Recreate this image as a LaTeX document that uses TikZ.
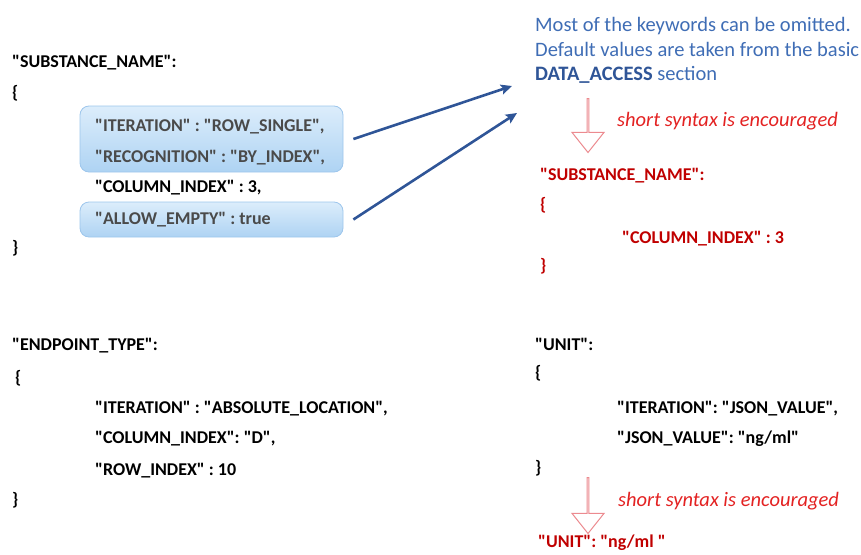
\documentclass[tikz,border=0pt]{standalone}
\usepackage{fontspec}
\setmainfont{Carlito}
\usetikzlibrary{arrows.meta,positioning,shapes.arrows}
\definecolor{keyblue}{HTML}{2F5597}
\definecolor{hintblue}{HTML}{3F6DB5}
\definecolor{shortred}{HTML}{C00000}
\definecolor{notered}{HTML}{E32222}
\definecolor{hollowred}{HTML}{EC8A8F}
\definecolor{boxtop}{HTML}{DCEDFB}
\definecolor{boxbottom}{HTML}{AED3F3}
\definecolor{boxline}{HTML}{9DC6EC}
\definecolor{boxtext}{HTML}{4A4A4A}
% straight double quotes round a key
\newcommand{\qkey}[1]{\textquotedbl#1\textquotedbl}

\tikzset{
  code/.style={anchor=west, inner sep=0pt, text height=11.6pt, text depth=0pt, font=\fontsize{18}{21}\selectfont\bfseries},
  boxed/.style={code, text=boxtext},
  short/.style={code, text=shortred},
  hint/.style={anchor=west, inner sep=0pt, text height=13pt, text depth=0pt, text=hintblue, font=\fontsize{20.5}{24}\selectfont},
  note/.style={anchor=west, inner sep=0pt, text height=13pt, text depth=0pt, text=notered, font=\fontsize{20.5}{24}\selectfont\itshape},
  jsonbox/.style={draw=boxline, line width=0.8pt, rounded corners=9pt, top color=boxtop, bottom color=boxbottom, inner sep=0pt, minimum width=263pt},
  bluearrow/.style={keyblue, line width=2.6pt, -{Stealth[length=11pt,width=10pt,inset=2pt]}},
  hollow/.style={single arrow, draw=hollowred, fill=white, line width=1pt, shape border rotate=270, minimum width=32pt, single arrow head extend=10pt, single arrow tip angle=77, inner sep=0pt, anchor=tail},
}

\begin{document}
\begin{tikzpicture}[x=1pt,y=-1pt]
\useasboundingbox (0,0) rectangle (861,554);

% SUBSTANCE_NAME, long form
\node[jsonbox, minimum height=66pt] (box1) at (211.5,139) {};
\node[jsonbox, minimum height=35pt] (box2) at (211.5,219.5) {};
\node[code] (subst) at (12,62) {\qkey{SUBSTANCE\_NAME}:};
\node[code] (substopen) at (12,93) {\{};
\node[boxed] (iter) at (95,126) {\qkey{ITERATION} : \qkey{ROW\_SINGLE},};
\node[boxed] (recog) at (95,157) {\qkey{RECOGNITION} : \qkey{BY\_INDEX},};
\node[code] (colidx) at (95,187) {\qkey{COLUMN\_INDEX} : 3,};
\node[boxed] (allow) at (95,219) {\qkey{ALLOW\_EMPTY} : true};
\node[code] (substclose) at (12,248) {\}};

% hint on the right
\node[hint] (hint1) at (535,25) {Most of the keywords can be omitted.};
\node[hint] (hint2) at (535,50) {Default values are taken from the basic};
\node[hint] (hint3) at (535,74) {\textbf{\color{keyblue}DATA\_ACCESS} section};
\coordinate (tip1) at (512,86);
\coordinate (tip2) at (517,113);
\draw[bluearrow] ([xshift=10pt]box1.east) -- (tip1);
\draw[bluearrow] ([xshift=10pt]box2.east) -- (tip2);

% SUBSTANCE_NAME, short form
\node[hollow, minimum height=54pt] (down1) at (588,98) {};
\node[note] (note1) at (617,120) {short syntax is encouraged};
\node[short] (ssubst) at (540,175) {\qkey{SUBSTANCE\_NAME}:};
\node[short] (ssubstopen) at (540,205) {\{};
\node[short] (scolidx) at (622,238) {\qkey{COLUMN\_INDEX} : 3};
\node[short] (ssubstclose) at (540,266) {\}};

% ENDPOINT_TYPE
\node[code] (endp) at (12,345) {\qkey{ENDPOINT\_TYPE}:};
\node[code] (endpopen) at (15,378) {\{};
\node[code] (endpiter) at (95,408) {\qkey{ITERATION} : \qkey{ABSOLUTE\_LOCATION},};
\node[code] (endpcol) at (95,438) {\qkey{COLUMN\_INDEX}: \qkey{D},};
\node[code] (endprow) at (95,470) {\qkey{ROW\_INDEX} : 10};
\node[code] (endpclose) at (12,500) {\}};

% UNIT
\node[code] (unit) at (535,345) {\qkey{UNIT}:};
\node[code] (unitopen) at (535,373) {\{};
\node[code] (unititer) at (617,408) {\qkey{ITERATION}: \qkey{JSON\_VALUE},};
\node[code] (unitval) at (617,438) {\qkey{JSON\_VALUE}: \qkey{ng/ml}};
\node[code] (unitclose) at (535,468) {\}};
\node[hollow, minimum height=56pt] (down2) at (588,477) {};
\node[note] (note2) at (618,500) {short syntax is encouraged};
\node[short] (sunit) at (538,542) {\qkey{UNIT}: \qkey{ng/ml }};
\end{tikzpicture}
\end{document}
